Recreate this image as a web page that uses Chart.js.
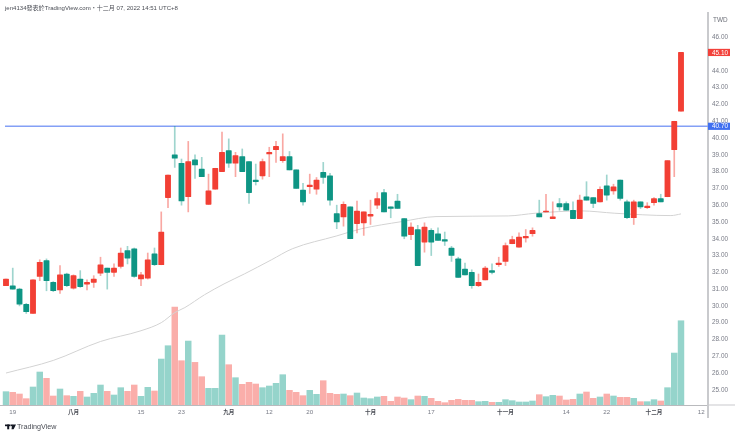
<!DOCTYPE html>
<html><head><meta charset="utf-8">
<style>html,body{margin:0;padding:0;background:#fff}#w{position:relative;width:740px;height:436px}</style>
<script src="https://cdn.jsdelivr.net/npm/chart.js@4"></script>
</head><body><div id="w"><canvas id="c" width="740" height="436"></canvas></div>
<script>
const headerText = "jen4134發表於TradingView.com・十二月 07, 2022 14:51 UTC+8";
const currencyLabel = "TWD";
const brandLabel = "TradingView";
const opens = [31.2,31.2,31.0,30.1,29.55,31.75,32.7,31.4,30.95,31.9,31.05,31.6,31.3,31.4,31.95,32.25,32.0,32.35,33.3,33.4,31.6,31.65,33.1,32.45,36.45,39.0,38.5,36.5,38.7,38.15,36.05,36.95,38.0,39.25,38.5,38.9,38.6,37.5,37.75,39.05,39.3,38.65,38.9,38.1,36.9,37.1,36.95,37.95,37.75,35.5,35.3,35.9,34.9,34.95,35.35,36.0,36.75,35.9,36.25,35.2,34.25,34.55,33.8,34.5,34.3,33.95,33.45,32.8,32.2,32.0,31.2,31.55,32.1,32.45,32.65,33.7,33.5,34.05,34.3,35.5,35.6,35.2,36.1,36.1,35.7,35.2,36.5,36.45,36.2,37.15,36.85,37.5,36.2,35.25,36.2,35.85,36.15,36.4,36.5,39.3,41.6];
const highs = [31.6,32.25,31.05,30.15,31.55,32.75,32.8,31.45,32.4,31.95,31.85,32.1,31.55,31.8,32.9,32.25,32.5,33.45,33.55,33.45,32.0,33.15,33.45,35.6,37.8,40.7,38.75,39.8,39.0,38.85,37.85,38.2,40.35,39.95,39.15,39.35,38.6,38.45,38.75,39.45,39.8,40.25,39.2,38.1,37.3,37.85,37.65,38.55,37.9,36.0,36.2,35.9,36.25,35.6,36.3,36.75,36.95,35.9,36.65,35.2,34.95,34.8,34.95,34.6,34.65,34.4,33.55,32.9,32.55,32.15,31.9,32.35,32.5,32.9,33.75,34.15,34.35,34.55,34.65,36.3,36.65,36.2,36.4,36.2,36.2,36.6,37.4,36.45,37.1,37.8,37.25,37.5,36.3,36.3,36.2,36.15,36.45,36.65,38.65,41.0,45.1];
const lows = [31.2,31.0,30.0,29.55,29.55,31.5,30.9,30.85,30.75,31.15,31.0,31.1,30.95,31.1,31.8,31.0,31.75,32.25,32.5,31.7,31.2,31.6,32.4,32.45,35.85,38.25,36.0,35.6,37.6,37.7,36.05,36.95,38.0,38.25,37.7,38.0,36.1,37.2,37.55,37.7,38.55,38.55,38.1,37.0,36.0,36.7,36.65,37.3,36.0,34.6,34.75,34.0,34.35,34.2,34.85,35.8,35.6,35.25,35.8,34.0,33.95,32.4,33.2,33.0,33.9,33.6,32.65,31.7,31.85,31.05,31.15,31.55,31.9,32.35,32.4,33.7,33.5,33.8,34.15,35.3,35.6,35.2,35.7,35.7,35.2,35.2,36.3,35.85,36.2,36.3,36.65,36.3,35.2,34.85,35.8,35.8,36.0,36.2,36.5,37.7,41.6];
const closes = [31.6,31.0,30.1,29.65,31.55,32.6,31.5,30.9,31.85,31.2,31.8,31.15,31.4,31.6,32.45,32.0,32.25,33.15,32.85,31.75,31.85,32.75,32.45,34.4,37.8,38.8,36.25,38.6,38.4,37.7,36.85,38.2,39.15,38.5,38.95,38.0,36.75,37.4,38.6,39.15,39.5,38.9,38.1,37.0,36.2,37.2,37.5,37.65,36.3,35.0,36.05,34.0,35.65,35.6,35.45,36.4,35.6,35.8,35.8,34.15,34.7,32.4,34.7,33.8,33.9,33.85,33.0,31.7,31.85,31.2,31.4,32.25,32.0,32.55,33.6,33.95,34.1,34.15,34.5,35.3,35.65,35.3,35.9,35.7,35.2,36.3,36.3,36.1,36.95,36.6,37.1,36.4,35.25,36.2,35.9,35.95,36.4,36.2,38.65,41.0,45.1];
const volumes = [40,38,33,19,54,99,80,27,48,28,26,41,24,35,60,41,30,52,41,60,26,53,42,138,178,294,133,192,128,85,50,50,210,121,82,62,68,63,52,57,65,91,44,38,28,44,32,73,35,32,33,28,36,21,19,24,26,11,24,21,16,27,26,20,11,7,14,17,14,14,10,11,8,8,16,13,9,9,12,31,25,29,27,15,17,33,39,20,24,33,27,23,23,20,10,10,16,12,52,156,253];
const smaIndex = [0,7,14,20,23,25,26.5,29.4,32.3,35.3,39.3,42.4,49,52.7,58.6,63.7,74.4,78.4,85.2,90.2,98.5,100];
const smaValues = [26.0,26.75,27.88,28.52,29.0,29.6,29.9,30.66,31.31,31.9,32.74,33.4,34.17,34.6,35.02,35.32,35.36,35.52,35.66,35.52,35.38,35.48];
const levelValue = 40.7;
const levelSpan = [-0.15,104];
const lastPrice = 45.1;
const priceTicks = [25,26,27,28,29,30,31,32,33,34,35,36,37,38,39,40,41,42,43,44,46];
const timeTickIndex = [1,10,20,26,33,39,45,54,63,74,83,89,96,103];
const timeTickLabels = ["19","八月","15","23","九月","12","20","十月","17","十一月","14","22","十二月","12"];

const UP='#f23f34', DOWN='#0e9584', UPW='rgba(242,63,52,.45)', DOWNW='rgba(14,149,132,.4)',
      VUP='rgba(20,160,140,.45)', VDN='rgba(242,63,52,.42)';
const idx = opens.map((_,i)=>i);
const isUp = i => closes[i]>=opens[i];
const sans = '"Liberation Sans","Noto Sans CJK TC",sans-serif';
const isMonth = ctx => !!(ctx.tick && /月/.test(ctx.tick.label||''));
const tagPlugin = {
  id:'tags',
  afterDatasetsDraw(ch){
    const c=ch.ctx, y=ch.scales.y, right=ch.chartArea.right, bot=ch.chartArea.bottom;
    c.save();
    c.fillStyle='#c9cacd'; c.fillRect(right,bot-.5,27,1); c.fillRect(right-1,bot,2,13);
    c.textBaseline='middle';
    const tag=(v,col)=>{const p=y.getPixelForValue(v);c.fillStyle=col;c.fillRect(right,p-3.6,22,7.2);
      c.fillStyle='#fff';c.font='6.4px '+sans;c.textAlign='left';c.fillText(v.toFixed(2),right+4,p+.3);};
    tag(lastPrice,'#f2413a'); tag(levelValue,'#3f6ff0');
    c.fillStyle='#6e717a';c.font='6.4px '+sans;c.fillText(currencyLabel,713,20);
    c.fillStyle='#4a4d55';c.font='6.05px '+sans;c.fillText(headerText,5,8);
    c.fillStyle='#4a4d55';c.font='7.2px '+sans;c.fillText(brandLabel,17,427.3);
    c.fillStyle='#131722';c.fillRect(5,424.5,5.5,1.7);c.fillRect(7.2,424.5,2,4.8);c.fillRect(10.8,424.5,1.6,1.7);
    c.beginPath();c.moveTo(12.2,424.5);c.lineTo(16,424.5);c.lineTo(13.6,429.3);c.lineTo(11.5,429.3);c.closePath();c.fill();
    c.restore();
  }
};
new Chart(document.getElementById('c'),{
  type:'bar',
  plugins:[tagPlugin],
  data:{datasets:[
    {type:'bar',label:'Candle',yAxisID:'y',order:1,grouped:false,barThickness:5.2,borderRadius:.6,borderSkipped:false,
     data:idx.map(i=>({x:i,y:[opens[i],closes[i]]})),backgroundColor:idx.map(i=>isUp(i)?UP:DOWN)},
    {type:'bar',label:'Wick',yAxisID:'y',order:2,grouped:false,barThickness:1,
     data:idx.map(i=>({x:i,y:[lows[i],highs[i]]})),backgroundColor:idx.map(i=>isUp(i)?UPW:DOWNW)},
    {type:'line',label:'Level',yAxisID:'y',order:3,data:levelSpan.map(x=>({x,y:levelValue})),borderColor:'#84a0f6',borderWidth:1.4,pointRadius:0},
    {type:'line',label:'MA',yAxisID:'y',order:4,data:smaIndex.map((x,i)=>({x,y:smaValues[i]})),borderColor:'#d3d3d3',borderWidth:1,pointRadius:0,cubicInterpolationMode:'monotone'},
    {type:'bar',label:'Volume',yAxisID:'v',order:5,grouped:false,barThickness:5.8,
     data:idx.map(i=>({x:i,y:volumes[i]})),backgroundColor:idx.map(i=>isUp(i)?VUP:VDN)}
  ]},
  options:{
    responsive:false,animation:false,devicePixelRatio:1,
    layout:{padding:{top:13,left:0,right:0,bottom:0}},
    plugins:{legend:{display:false},tooltip:{enabled:false}},
    scales:{
      x:{type:'linear',offset:false,min:-0.889,max:104,
        grid:{display:false,drawTicks:false},
        border:{display:true,color:'#b9babd',width:1},
        afterBuildTicks(s){s.ticks=timeTickIndex.map(v=>({value:v}));},
        afterFit(s){s.height=31;},
        ticks:{autoSkip:false,maxRotation:0,padding:4,
          callback(v){const k=timeTickIndex.indexOf(v);return k<0?'':timeTickLabels[k];},
          color(ctx){return isMonth(ctx)?'#4a4d55':'#787b86';},
          font(ctx){return {family:sans,size:isMonth(ctx)?5.6:6.2,weight:isMonth(ctx)?'bold':'normal'};}
        }},
      y:{type:'linear',position:'right',min:24.095,max:47.45,
        grid:{display:false,drawTicks:false},
        border:{display:true,color:'#c9cacd',width:2},
        afterBuildTicks(s){s.ticks=priceTicks.map(v=>({value:v}));},
        afterFit(s){s.width=32;},
        ticks:{padding:4,autoSkip:false,color:'#787b86',font:{family:sans,size:6.4},
          callback(v){return v.toFixed(2);}}},
      v:{type:'linear',display:false,min:0,max:1177,position:'right',grid:{display:false}}
    }
  }
});
</script></body></html>
